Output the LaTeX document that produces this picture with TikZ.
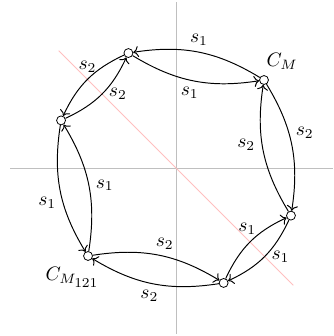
\documentclass[tikz,border=0pt]{standalone}
\usepackage{amsmath}
\usepackage{tikz}
\usetikzlibrary{arrows.meta, positioning}

\begin{document}
\begin{tikzpicture}[
  state/.style={circle, draw, fill=white, inner sep=0pt, minimum size=4.6pt},
  axis/.style={gray!50, line width=0.5pt},
  mirror/.style={pink, line width=0.5pt},
  arrow/.style={->, line width=0.5pt}
]
\useasboundingbox (-3.183,-3.038) rectangle (2.839,3.038);

% axes and reflection line
\draw[axis] (-3,0) -- (2.839,0);
\draw[axis] (0,-3) -- (0,3);
\draw[mirror] (135:3) -- (-45:3);

% chambers
\node[state, label={[xshift=-4pt, label distance=0pt]above right:$C_M$}] (m) at (45:2.25) {};
\node[state] (m1) at (112.5:2.25) {};
\node[state] (m12) at (157.5:2.25) {};
\node[state, label={[xshift=-8pt, label distance=0pt]below:$C_{M_{\scriptstyle 121}}$}] (m121) at (225:2.25) {};
\node[state] (m2) at (-22.5:2.25) {};
\node[state] (m21) at (-67.5:2.25) {};

\draw[arrow] (m) to[bend right=20] node[above] {$s_1$} (m1);
\draw[arrow] (m1) to[bend right=20] node[below, pos=0.47] {$s_1$} (m);
\draw[arrow] (m1) to[bend right=20] node[above] {$s_2$} (m12);
\draw[arrow] (m12) to[bend right=20] node[right] {$s_2$} (m1);
\draw[arrow] (m12) to[bend right=20] node[left, pos=0.6] {$s_1$} (m121);
\draw[arrow] (m121) to[bend right=20] node[right] {$s_1$} (m12);
\draw[arrow] (m) to[bend left=20] node[right, pos=0.4] {$s_2$} (m2);
\draw[arrow] (m2) to[bend left=20] node[left, pos=0.55] {$s_2$} (m);
\draw[arrow] (m2) to[bend left=20] node[right] {$s_1$} (m21);
\draw[arrow] (m21) to[bend left=20] node[above, pos=0.45, yshift=2pt] {$s_1$} (m2);
\draw[arrow] (m21) to[bend left=20] node[below, pos=0.53] {$s_2$} (m121);
\draw[arrow] (m121) to[bend left=20] node[above, pos=0.55] {$s_2$} (m21);
\end{tikzpicture}
\end{document}
